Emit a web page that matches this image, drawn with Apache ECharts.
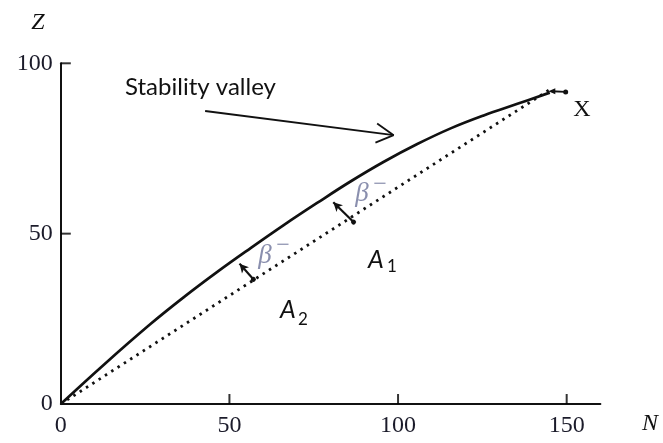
<!DOCTYPE html>
<html>
<head>
<meta charset="utf-8">
<script src="https://cdn.jsdelivr.net/npm/echarts@6/dist/echarts.min.js"></script>
<style>
html,body{margin:0;padding:0;background:#fff;}
#c{width:663px;height:443px;}
</style>
</head>
<body>
<div id="c"></div>
<script>
// Stability valley (solid curve): neutron number N, proton number Z
const valleyN = [0, 12.6, 26.5, 36.4, 46.3, 56.2, 66.1, 76.0, 85.9, 95.8, 105.7, 115.6, 125.4, 135.4, 145.0];
const valleyZ = [0, 11.4, 23.4, 31.3, 38.7, 45.7, 52.5, 59.0, 65.3, 71.1, 76.3, 80.9, 84.7, 88.1, 91.4];
// Dotted straight line from origin to the end point
const dottedN = [0, 145.0];
const dottedZ = [0, 92.3];
// Small end segment (arrowhead to dot "X")
const endN = [145.6, 149.7];
const endZ = [91.8, 91.6];
// Tick labels
const xTickLabels = [0, 50, 100, 150];
const yTickLabels = [0, 50, 100];
// beta- arrows (from dotted line to valley)
const betaFromN = [57.1, 86.8];
const betaFromZ = [36.6, 53.4];
const betaToN = [53.0, 80.8];
const betaToZ = [41.2, 59.2];
// "Stability valley" pointer arrow
const pointerN = [42.8, 98.7];
const pointerZ = [86.0, 78.9];
const wingN = [93.8, 93.3];
const wingZ = [82.3, 76.7];

const chart = echarts.init(document.getElementById('c'), null, {renderer: 'canvas'});

const serif = '"Liberation Serif", "DejaVu Serif", serif';
const sans = 'Lato, "Open Sans", sans-serif';
const ink = '#111111';
const betaCol = '#8a8fae';

const betaLines = betaFromN.map((n, i) => [
  {coord: [n, betaFromZ[i]], symbol: 'circle', symbolSize: 5},
  {coord: [betaToN[i], betaToZ[i]], symbol: 'arrow', symbolSize: [7, 9]}
]);
const pointerLines = [
  [{coord: [pointerN[0], pointerZ[0]]}, {coord: [pointerN[1], pointerZ[1]]}],
  [{coord: [wingN[0], wingZ[0]]}, {coord: [pointerN[1], pointerZ[1]]}],
  [{coord: [wingN[1], wingZ[1]]}, {coord: [pointerN[1], pointerZ[1]]}]
];

function txt(text, x, y, font, fill, align) {
  return {
    type: 'text', silent: true, z: 100,
    style: {
      text: text, x: x, y: y, font: font, fill: fill || ink,
      align: align || 'center', verticalAlign: 'middle',
      textAlign: align || 'center', textVerticalAlign: 'middle'
    }
  };
}

const option = {
  animation: false,
  backgroundColor: '#fff',
  grid: {left: 60.8, right: 62.6, top: 63.3, bottom: 39},
  xAxis: {
    type: 'value', min: 0, max: 160, interval: 50,
    axisLine: {show: true, onZero: false, lineStyle: {color: ink, width: 2}},
    axisTick: {show: false},
    axisLabel: {customValues: xTickLabels, margin: 10, fontFamily: serif, fontSize: 24, color: '#1b1b2a'},
    splitLine: {show: false}
  },
  yAxis: {
    type: 'value', min: 0, max: 100, interval: 50,
    axisLine: {show: true, onZero: false, lineStyle: {color: ink, width: 2}},
    axisTick: {show: false},
    axisLabel: {customValues: yTickLabels, margin: 8, fontFamily: serif, fontSize: 24, color: '#1b1b2a'},
    splitLine: {show: false}
  },
  series: [
    {
      name: 'valley', type: 'line', smooth: 0.4, showSymbol: false,
      data: valleyN.map((n, i) => [n, valleyZ[i]]),
      lineStyle: {color: ink, width: 2.7},
      z: 5
    },
    {
      name: 'dotted', type: 'line', showSymbol: false,
      data: dottedN.map((n, i) => [n, dottedZ[i]]),
      lineStyle: {color: ink, width: 2.8, type: [2.5, 5]},
      markLine: {
        silent: true, animation: false,
        lineStyle: {type: 'solid', color: ink, width: 2.2},
        label: {show: false},
        emphasis: {disabled: true},
        data: betaLines
      },
      z: 4
    },
    {
      name: 'end', type: 'line', showSymbol: true,
      data: [
        {value: [endN[0], endZ[0]], symbol: 'triangle', symbolSize: [6, 7], symbolRotate: 90},
        {value: [endN[1], endZ[1]], symbol: 'circle', symbolSize: 5}
      ],
      itemStyle: {color: ink},
      lineStyle: {color: ink, width: 1.8},
      z: 6
    },
    {
      name: 'pointer', type: 'line', data: [],
      markLine: {
        silent: true, animation: false, symbol: 'none',
        lineStyle: {type: 'solid', color: ink, width: 1.8},
        label: {show: false},
        emphasis: {disabled: true},
        data: pointerLines
      }
    },
    {
      // inside tick marks on the N axis
      name: 'xTicks', type: 'scatter', silent: true, clip: false,
      data: xTickLabels.filter(v => v > 0).map(v => [v, 0]),
      symbol: 'rect', symbolSize: [2, 10], symbolOffset: [0, -5],
      itemStyle: {color: '#000'},
      z: 20
    },
    {
      // inside tick marks on the Z axis
      name: 'yTicks', type: 'scatter', silent: true, clip: false,
      data: yTickLabels.filter(v => v > 0).map(v => [0, v]),
      symbol: 'rect', symbolSize: [10, 2], symbolOffset: [5, 0],
      itemStyle: {color: '#000'},
      z: 20
    }
  ],
  graphic: [
    txt('Z', 38, 23, 'italic 24px ' + serif),
    txt('N', 650, 424, 'italic 24px ' + serif),
    txt('X', 582, 110, '24px ' + serif),
    txt('Stability valley', 125, 87, '24px ' + sans, '#111', 'left'),
    txt('A', 376, 260, 'italic 25px ' + sans, '#111'),
    txt('1', 392, 267, '17px ' + sans, '#111'),
    txt('A', 288, 310, 'italic 25px ' + sans, '#111'),
    txt('2', 303, 320, '17px ' + sans, '#111'),
    txt('β', 265, 256, 'italic 27px ' + serif, betaCol),
    txt('−', 283, 246, '24px ' + serif, betaCol),
    txt('β', 362, 194, 'italic 27px ' + serif, betaCol),
    txt('−', 380, 185, '24px ' + serif, betaCol)
  ]
};
chart.setOption(option);
</script>
</body>
</html>
